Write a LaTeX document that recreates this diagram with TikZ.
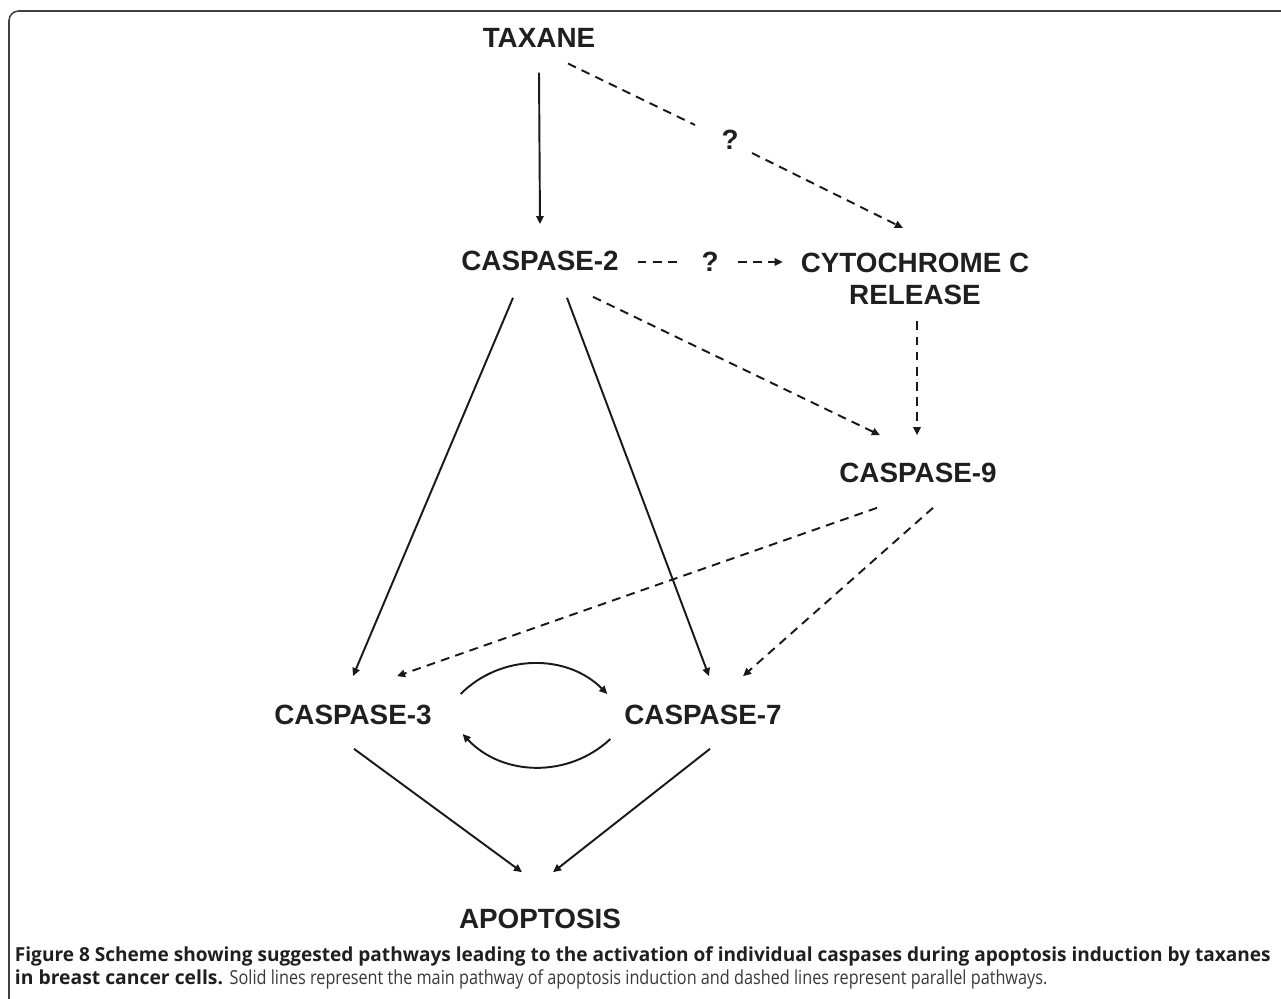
\documentclass[tikz,border=0pt]{standalone}
\usepackage{fontspec}
\usepackage{graphicx}
\setmainfont{Liberation Sans}
\newfontfamily\capfont{Open Sans}
\usetikzlibrary{arrows.meta}

\begin{document}
\begin{tikzpicture}[x=0.02cm, y=-0.02cm, line width=1.1pt, >={Triangle[length=4.6pt,width=4.2pt]},
	lbl/.style={inner sep=0pt, text=black!88, font=\fontsize{15.85}{18.1}\selectfont\bfseries},
	main/.style={->, black!90},
	par/.style={->, black!90, dash pattern=on 5pt off 3.6pt},
	parline/.style={par, -},
	caption/.style={anchor=base west, inner sep=0pt, font=\capfont\fontsize{11}{12}\selectfont}]
	\useasboundingbox (0,0) rectangle (1281,999);
	\draw[line width=0.9pt, black!75, rounded corners=5.5pt] (9,999) -- (9,11) -- (1281,11);
	\node[lbl] (tax) at (539,38) {TAXANE};
	\node[lbl] (c2) at (540,261) {CASPASE-2};
	\node[lbl] (q1) at (730,140) {?};
	\node[lbl] (q2) at (710,262) {?};
	\node[lbl, align=center, anchor=north] (cyt) at (915,252) {CYTOCHROME C\\RELEASE};
	\node[lbl] (c9) at (918,473) {CASPASE-9};
	\node[lbl] (c3) at (353,715) {CASPASE-3};
	\node[lbl] (c7) at (703,715) {CASPASE-7};
	\node[lbl] (apo) at (540,919) {APOPTOSIS};
	\draw[main] ([shift={(0,24)}]tax.south) to ([shift={(0,-26)}]c2.north);
	\draw[parline] ([shift={(29,15)}]tax.south) to ([shift={(-35,-15)}]q1.center);
	\draw[par] ([shift={(22,13)}]q1.center) to ([shift={(-12,-24)}]cyt.north);
	\draw[parline] ([shift={(18,1)}]c2.east) to ([shift={(-30,0)}]q2.center);
	\draw[par] ([shift={(28,0)}]q2.center) to ([shift={(-17,10)}]cyt.north west);
	\draw[par] ([shift={(2,16)}]cyt.south) to ([shift={(-1,-27)}]c9.north);
	\draw[par] ([shift={(53,25)}]c2.south) to ([shift={(-38,-27)}]c9.north);
	\draw[main] ([shift={(-27,26)}]c2.south) to ([shift={(0,-28)}]c3.north);
	\draw[main] ([shift={(27,26)}]c2.south) to ([shift={(6,-28)}]c7.north);
	\draw[par] ([shift={(-41,24)}]c9.south) to ([shift={(44,-28)}]c3.north);
	\draw[par] ([shift={(15,24)}]c9.south) to ([shift={(40,-28)}]c7.north);
	\draw[main] ([shift={(28,-21)}]c3.east) to[bend left=45] ([shift={(-16,-21)}]c7.west);
	\draw[main] ([shift={(-13,24)}]c7.west) to[bend left=45] ([shift={(30,19)}]c3.east);
	\draw[main] ([shift={(1,23)}]c3.south) to ([shift={(-18,-36)}]apo.north);
	\draw[main] ([shift={(7,23)}]c7.south) to ([shift={(13,-36)}]apo.north);
	\node[caption, text=black!88] (cap1) at (14,961)
		{\resizebox{25.12cm}{\height}{\bfseries Figure 8 Scheme showing suggested pathways leading to the activation of individual caspases during apoptosis induction by taxanes}};
	\node[caption, text=black!78] (cap2) at (14,984)
		{{\bfseries\color{black!88}in breast cancer cells.} \scalebox{0.84}[1]{Solid lines represent the main pathway of apoptosis induction and dashed lines represent parallel pathways.}};
\end{tikzpicture}
\end{document}
